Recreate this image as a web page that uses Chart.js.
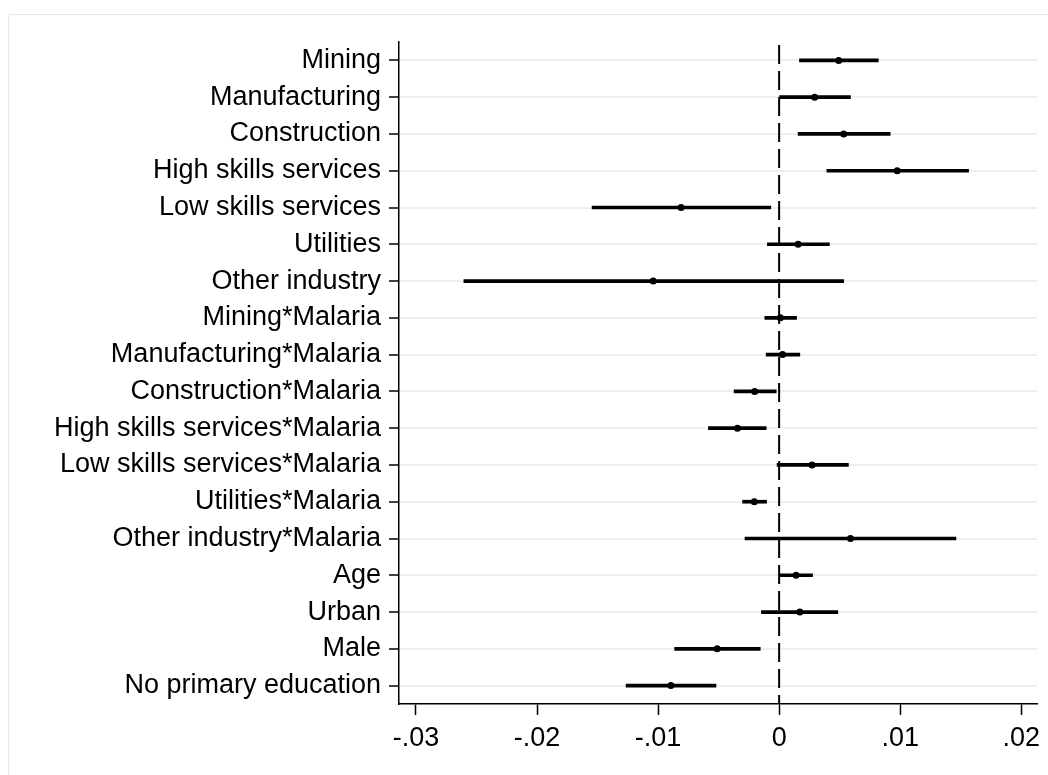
<!DOCTYPE html>
<html>
<head>
<meta charset="utf-8">
<script src="https://cdn.jsdelivr.net/npm/chart.js@4/dist/chart.umd.min.js"></script>
<style>
  html, body { margin: 0; padding: 0; background: #ffffff; }
  #wrap { width: 1048px; height: 775px; position: relative; }
</style>
</head>
<body>
<div id="wrap"><canvas id="c" width="1048" height="775"></canvas></div>
<script>
// Coefficient estimates with 95% confidence intervals
const categories = [
  'Mining', 'Manufacturing', 'Construction', 'High skills services',
  'Low skills services', 'Utilities', 'Other industry',
  'Mining*Malaria', 'Manufacturing*Malaria', 'Construction*Malaria',
  'High skills services*Malaria', 'Low skills services*Malaria',
  'Utilities*Malaria', 'Other industry*Malaria',
  'Age', 'Urban', 'Male', 'No primary education'
];
const estimates = [
  0.00492, 0.00293, 0.00533, 0.00975, -0.0081, 0.00157, -0.0104,
  0.0001, 0.00028, -0.00202, -0.00344, 0.00272, -0.00205, 0.00589,
  0.0014, 0.00171, -0.00512, -0.00894
];
const ciLower = [
  0.00168, 0.0, 0.00157, 0.00394, -0.01545, -0.00097, -0.02604,
  -0.00118, -0.00107, -0.00372, -0.00584, -0.00017, -0.00302, -0.00282,
  0.0, -0.00146, -0.00863, -0.01264
];
const ciUpper = [
  0.00819, 0.00589, 0.00917, 0.01565, -0.00069, 0.00415, 0.00533,
  0.00144, 0.00171, -0.00024, -0.00107, 0.00572, -0.00104, 0.0146,
  0.00276, 0.00485, -0.00156, -0.00522
];
const xTickValues = [-0.03, -0.02, -0.01, 0, 0.01, 0.02];
const xTickLabels = ['-.03', '-.02', '-.01', '0', '.01', '.02'];
const referenceValue = 0;

const FONT = { family: '"Liberation Sans", Arial, Helvetica, sans-serif', size: 27 };

// light outer frame around the graph region
const framePlugin = {
  id: 'frame',
  beforeDraw(chart) {
    const ctx = chart.ctx;
    ctx.save();
    ctx.fillStyle = '#ffffff';
    ctx.fillRect(0, 0, chart.width, chart.height);
    ctx.strokeStyle = '#e3ebee';
    ctx.lineWidth = 1;
    ctx.strokeRect(8.5, 14.5, chart.width + 20, chart.height + 20);
    ctx.restore();
  }
};

// dashed vertical reference line at zero
const refLinePlugin = {
  id: 'refLine',
  beforeDatasetsDraw(chart) {
    const { ctx, chartArea, scales } = chart;
    const x = scales.x.getPixelForValue(referenceValue);
    ctx.save();
    ctx.strokeStyle = '#000000';
    ctx.lineWidth = 2;
    ctx.setLineDash([19, 7]);
    ctx.beginPath();
    ctx.moveTo(x, chartArea.top + 3);
    ctx.lineTo(x, chartArea.bottom);
    ctx.stroke();
    ctx.restore();
  }
};

new Chart(document.getElementById('c'), {
  type: 'bar',
  data: {
    labels: categories,
    datasets: [
      {
        type: 'line',
        label: 'Estimate',
        data: categories.map((c, i) => ({ x: estimates[i], y: c })),
        showLine: false,
        pointRadius: 3.5,
        pointHoverRadius: 3.5,
        pointBackgroundColor: '#000000',
        pointBorderColor: '#000000',
        pointBorderWidth: 0,
        order: 1
      },
      {
        type: 'bar',
        label: '95% CI',
        data: categories.map((c, i) => [ciLower[i], ciUpper[i]]),
        backgroundColor: '#000000',
        borderWidth: 0,
        barThickness: 3,
        order: 2
      }
    ]
  },
  options: {
    indexAxis: 'y',
    responsive: false,
    animation: false,
    devicePixelRatio: 1,
    layout: { padding: { top: 42, right: 11, left: 0, bottom: 0 } },
    plugins: {
      legend: { display: false },
      tooltip: { enabled: false },
      title: { display: false }
    },
    scales: {
      x: {
        type: 'linear',
        min: -0.0314,
        max: 0.0213,
        afterBuildTicks(scale) {
          scale.ticks = xTickValues.map(v => ({ value: v }));
        },
        afterFit(scale) { scale.height = 71; },
        ticks: {
          color: '#000000',
          font: FONT,
          padding: 7,
          maxRotation: 0,
          autoSkip: false,
          callback(value, index) { return xTickLabels[index]; }
        },
        grid: {
          drawOnChartArea: false,
          drawTicks: true,
          tickLength: 11,
          tickColor: '#000000',
          tickWidth: 1.5
        },
        border: { color: '#000000', width: 1.5 }
      },
      y: {
        type: 'category',
        labels: categories,
        offset: true,
        afterFit(scale) { scale.width = 399; },
        ticks: {
          color: '#000000',
          font: FONT,
          padding: 8,
          autoSkip: false
        },
        grid: {
          offset: false,
          color: '#e9f0f2',
          lineWidth: 2,
          drawTicks: true,
          tickLength: 10,
          tickColor: '#000000',
          tickWidth: 1.5
        },
        border: { color: '#000000', width: 1.5 }
      }
    }
  },
  plugins: [framePlugin, refLinePlugin]
});
</script>
</body>
</html>
